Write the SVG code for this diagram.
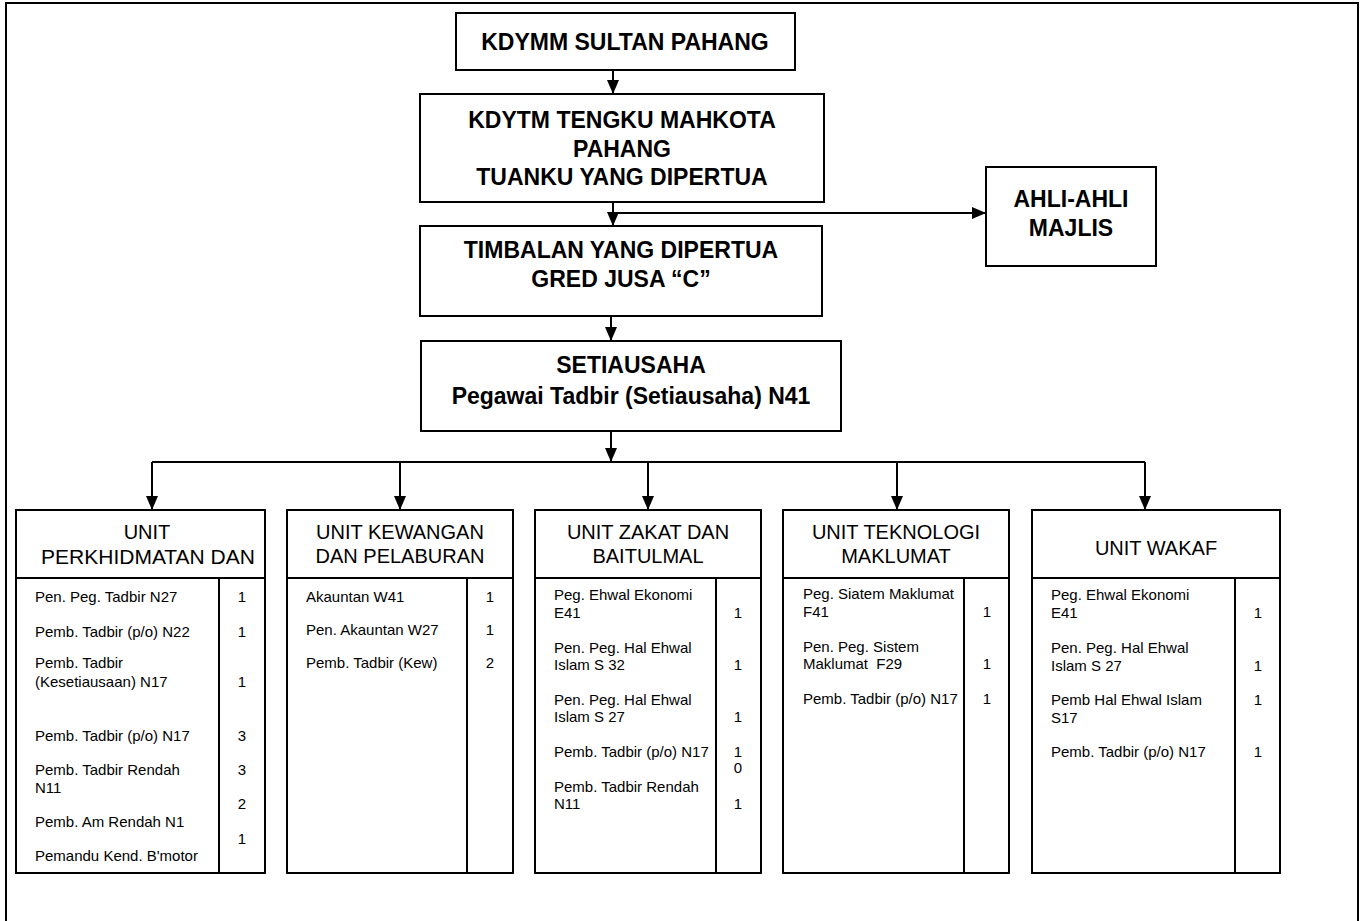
<svg xmlns="http://www.w3.org/2000/svg" width="1361" height="921" viewBox="0 0 1361 921">
  <style>
    .box { fill: #fff; stroke: #000; stroke-width: 2; }
    .ln { fill: none; stroke: #000; stroke-width: 2; }
    .frame { fill: none; stroke: #000; stroke-width: 2; }
    text { font-family: "Liberation Sans", Arial, sans-serif; fill: #000; }
    .tb { font-weight: bold; font-size: 23px; text-anchor: middle; }
    .th { font-size: 20px; text-anchor: middle; }
    .tr { font-size: 15px; }
    .tn { font-size: 15px; text-anchor: middle; }
  </style>
  <defs>
    <marker id="arr" viewBox="0 0 14 12" refX="14" refY="6" markerWidth="14" markerHeight="12" markerUnits="userSpaceOnUse" orient="auto">
      <path d="M0,0 L14,6 L0,12 z" fill="#000"/>
    </marker>
  </defs>

  <rect width="1361" height="921" fill="#fff"/>
  <path class="frame" d="M6,921 V3 H1358 V921"/>

  <!-- connectors -->
  <g id="connectors">
    <path class="ln" d="M613,70 V94" marker-end="url(#arr)"/>
    <path class="ln" d="M613,202 V226" marker-end="url(#arr)"/>
    <path class="ln" d="M613,213 H986" marker-end="url(#arr)"/>
    <path class="ln" d="M611,316 V341" marker-end="url(#arr)"/>
    <path class="ln" d="M611,431 V462" marker-end="url(#arr)"/>
    <path class="ln" d="M152,462 H1145"/>
    <path class="ln" d="M152,462 V510" marker-end="url(#arr)"/>
    <path class="ln" d="M400,462 V510" marker-end="url(#arr)"/>
    <path class="ln" d="M648,462 V510" marker-end="url(#arr)"/>
    <path class="ln" d="M897,462 V510" marker-end="url(#arr)"/>
    <path class="ln" d="M1145,462 V510" marker-end="url(#arr)"/>
  </g>

  <g id="sultan">
    <rect class="box" x="456" y="13" width="339" height="57"/>
    <text class="tb" x="625" y="50">KDYMM SULTAN PAHANG</text>
  </g>

  <g id="tengku-mahkota">
    <rect class="box" x="420" y="94" width="404" height="108"/>
    <text class="tb" x="622" y="128">KDYTM TENGKU MAHKOTA</text>
    <text class="tb" x="622" y="157">PAHANG</text>
    <text class="tb" x="622" y="185">TUANKU YANG DIPERTUA</text>
  </g>

  <g id="ahli-majlis">
    <rect class="box" x="986" y="167" width="170" height="99"/>
    <text class="tb" x="1071" y="207">AHLI-AHLI</text>
    <text class="tb" x="1071" y="236">MAJLIS</text>
  </g>

  <g id="timbalan">
    <rect class="box" x="420" y="226" width="402" height="90"/>
    <text class="tb" x="621" y="258">TIMBALAN YANG DIPERTUA</text>
    <text class="tb" x="621" y="287">GRED JUSA “C”</text>
  </g>

  <g id="setiausaha">
    <rect class="box" x="421" y="341" width="420" height="90"/>
    <text class="tb" x="631" y="373">SETIAUSAHA</text>
    <text class="tb" x="631" y="404">Pegawai Tadbir (Setiausaha) N41</text>
  </g>

  <!-- unit boxes -->
  <g id="unit-perkhidmatan">
    <rect class="box" x="16" y="510" width="249" height="363"/>
    <path class="ln" d="M16,578 H265 M219,578 V873"/>
    <text class="th" x="147" y="539">UNIT</text>
    <text class="th" x="148" y="564" style="font-size:21px">PERKHIDMATAN DAN</text>
    <text class="tr" x="35" y="602">Pen. Peg. Tadbir N27</text>
    <text class="tn" x="242" y="602">1</text>
    <text class="tr" x="35" y="637">Pemb. Tadbir (p/o) N22</text>
    <text class="tn" x="242" y="637">1</text>
    <text class="tr" x="35" y="668">Pemb. Tadbir</text>
    <text class="tr" x="35" y="687">(Kesetiausaan) N17</text>
    <text class="tn" x="242" y="687">1</text>
    <text class="tr" x="35" y="741">Pemb. Tadbir (p/o) N17</text>
    <text class="tn" x="242" y="741">3</text>
    <text class="tr" x="35" y="775">Pemb. Tadbir Rendah</text>
    <text class="tr" x="35" y="793">N11</text>
    <text class="tn" x="242" y="775">3</text>
    <text class="tn" x="242" y="809">2</text>
    <text class="tr" x="35" y="827">Pemb. Am Rendah N1</text>
    <text class="tn" x="242" y="844">1</text>
    <text class="tr" x="35" y="861">Pemandu Kend. B'motor</text>
  </g>

  <g id="unit-kewangan">
    <rect class="box" x="287" y="510" width="226" height="363"/>
    <path class="ln" d="M287,578 H513 M467,578 V873"/>
    <text class="th" x="400" y="539">UNIT KEWANGAN</text>
    <text class="th" x="400" y="563">DAN PELABURAN</text>
    <text class="tr" x="306" y="602">Akauntan W41</text>
    <text class="tn" x="490" y="602">1</text>
    <text class="tr" x="306" y="635">Pen. Akauntan W27</text>
    <text class="tn" x="490" y="635">1</text>
    <text class="tr" x="306" y="668">Pemb. Tadbir (Kew)</text>
    <text class="tn" x="490" y="668">2</text>
  </g>

  <g id="unit-zakat">
    <rect class="box" x="535" y="510" width="226" height="363"/>
    <path class="ln" d="M535,578 H761 M716,578 V873"/>
    <text class="th" x="648" y="539">UNIT ZAKAT DAN</text>
    <text class="th" x="648" y="563">BAITULMAL</text>
    <text class="tr" x="554" y="600">Peg. Ehwal Ekonomi</text>
    <text class="tr" x="554" y="618">E41</text>
    <text class="tn" x="738" y="618">1</text>
    <text class="tr" x="554" y="653">Pen. Peg. Hal Ehwal</text>
    <text class="tr" x="554" y="670">Islam S 32</text>
    <text class="tn" x="738" y="670">1</text>
    <text class="tr" x="554" y="705">Pen. Peg. Hal Ehwal</text>
    <text class="tr" x="554" y="722">Islam S 27</text>
    <text class="tn" x="738" y="722">1</text>
    <text class="tr" x="554" y="757">Pemb. Tadbir (p/o) N17</text>
    <text class="tn" x="738" y="757">1</text>
    <text class="tn" x="738" y="773">0</text>
    <text class="tr" x="554" y="792">Pemb. Tadbir Rendah</text>
    <text class="tr" x="554" y="809">N11</text>
    <text class="tn" x="738" y="809">1</text>
  </g>

  <g id="unit-teknologi">
    <rect class="box" x="783" y="510" width="226" height="363"/>
    <path class="ln" d="M783,578 H1009 M964,578 V873"/>
    <text class="th" x="896" y="539">UNIT TEKNOLOGI</text>
    <text class="th" x="896" y="563">MAKLUMAT</text>
    <text class="tr" x="803" y="599">Peg. Siatem Maklumat</text>
    <text class="tr" x="803" y="617">F41</text>
    <text class="tn" x="987" y="617">1</text>
    <text class="tr" x="803" y="652">Pen. Peg. Sistem</text>
    <text class="tr" x="803" y="669" xml:space="preserve">Maklumat  F29</text>
    <text class="tn" x="987" y="669">1</text>
    <text class="tr" x="803" y="704">Pemb. Tadbir (p/o) N17</text>
    <text class="tn" x="987" y="704">1</text>
  </g>

  <g id="unit-wakaf">
    <rect class="box" x="1032" y="510" width="248" height="363"/>
    <path class="ln" d="M1032,578 H1280 M1235,578 V873"/>
    <text class="th" x="1156" y="555">UNIT WAKAF</text>
    <text class="tr" x="1051" y="600">Peg. Ehwal Ekonomi</text>
    <text class="tr" x="1051" y="618">E41</text>
    <text class="tn" x="1258" y="618">1</text>
    <text class="tr" x="1051" y="653">Pen. Peg. Hal Ehwal</text>
    <text class="tr" x="1051" y="671">Islam S 27</text>
    <text class="tn" x="1258" y="671">1</text>
    <text class="tr" x="1051" y="705">Pemb Hal Ehwal Islam</text>
    <text class="tr" x="1051" y="723">S17</text>
    <text class="tn" x="1258" y="705">1</text>
    <text class="tr" x="1051" y="757">Pemb. Tadbir (p/o) N17</text>
    <text class="tn" x="1258" y="757">1</text>
  </g>
</svg>
